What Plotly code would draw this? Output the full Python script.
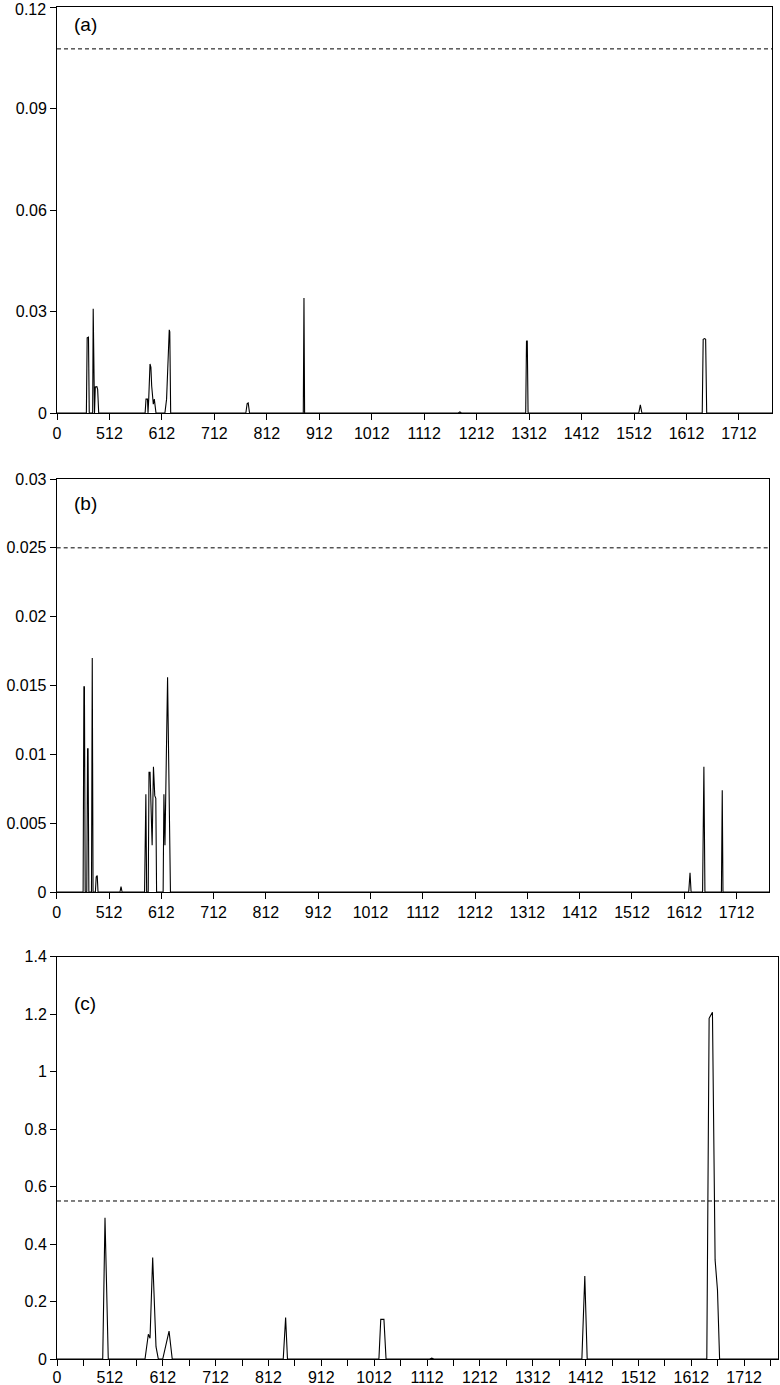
import plotly.graph_objects as go

# ---------------- data ----------------
tick_vals = [412, 512, 612, 712, 812, 912, 1012, 1112, 1212, 1312, 1412, 1512, 1612, 1712]
tick_text = ["0", "512", "612", "712", "812", "912", "1012", "1112", "1212", "1312", "1412", "1512", "1612", "1712"]

# panel (a)
a_x = [412,
       468, 469.5, 472, 473.5,
       480, 481, 482.3,
       483.5, 485, 488, 489.5, 491.5,
       580, 581.7, 584.5, 585.5,
       586.8, 589.3, 591, 592.5, 595.6, 597.5, 600.7,
       617.7, 620.9, 626, 627, 628.7,
       772, 774.5, 776.5, 779,
       881.5, 882.8, 884,
       1177, 1180, 1183,
       1305.5, 1307, 1308.5, 1310,
       1521, 1524, 1527,
       1642, 1643.8, 1646.5, 1648.5, 1650.5,
       1775]
a_y = [0,
       0, 0.0222, 0.0224, 0,
       0, 0.0308, 0,
       0, 0.0077, 0.0078, 0.0070, 0,
       0, 0.0041, 0.0041, 0,
       0.0040, 0.0145, 0.0135, 0.0080, 0.0026, 0.0041, 0,
       0, 0.0041, 0.0246, 0.0240, 0,
       0, 0.0028, 0.0030, 0,
       0, 0.0340, 0,
       0, 0.0003, 0,
       0, 0.0212, 0.0214, 0,
       0, 0.0024, 0,
       0, 0.0218, 0.0220, 0.0218, 0,
       0]
a_threshold = 0.1077

# panel (b)
b_x = [412,
       462.5, 464, 465, 466.5,
       469.5, 471, 472, 473.5,
       478.5, 480, 481.5,
       486, 487.5, 489.5, 491,
       533, 535, 537,
       580, 582.5, 584, 587, 588.5, 590.5, 592.5, 594.5, 597, 599.5, 601.5, 603,
       615.5, 617, 619, 624, 629.5,
       1620.5, 1623, 1625,
       1647, 1649.5, 1651.5,
       1683, 1684.6, 1686,
       1774]
b_y = [0,
       0, 0.0149, 0.0149, 0,
       0, 0.0104, 0.0104, 0,
       0, 0.0170, 0,
       0, 0.0011, 0.0012, 0,
       0, 0.0004, 0,
       0, 0.0071, 0, 0, 0.0087, 0.0087, 0.0060, 0.0034, 0.0091, 0.0070, 0.0068, 0,
       0, 0.0071, 0.0034, 0.0156, 0,
       0, 0.0014, 0,
       0, 0.0091, 0,
       0, 0.0074, 0,
       0]
b_threshold = 0.025

# panel (c)
c_x = [412,
       498.5, 502.8, 509,
       578.5, 584.8, 588, 593, 599.3, 603.7,
       612, 624, 630,
       840, 844.5, 848,
       1021, 1024.5, 1030.5, 1034.5,
       1117, 1121, 1125,
       1405, 1410.5, 1415,
       1641.3, 1645.7, 1652, 1657, 1661.5, 1665.5,
       1776]
c_y = [0,
       0, 0.492, 0,
       0, 0.086, 0.072, 0.353, 0.043, 0,
       0, 0.097, 0,
       0, 0.144, 0,
       0, 0.138, 0.138, 0,
       0, 0.003, 0,
       0, 0.289, 0,
       0, 1.186, 1.207, 0.345, 0.240, 0,
       0]
c_threshold = 0.55

panels = [
    dict(x=a_x, y=a_y, thr=a_threshold, yr=[0, 0.12],
         ytv=[0, 0.03, 0.06, 0.09, 0.12], ytt=["0", "0.03", "0.06", "0.09", ""],
         top_label="0.12",
         xr=[412, 1775], xdom=[57 / 780, 772 / 780], ydom=[1 - 413 / 1385, 1 - 7.3 / 1385],
         label="(a)", ly=24, minor=False, xstand=0),
    dict(x=b_x, y=b_y, thr=b_threshold, yr=[0, 0.03],
         ytv=[0, 0.005, 0.01, 0.015, 0.02, 0.025, 0.03],
         ytt=["0", "0.005", "0.01", "0.015", "0.02", "0.025", "0.03"],
         top_label=None,
         xr=[412, 1774], xdom=[56.7 / 780, 769 / 780], ydom=[1 - 892 / 1385, 1 - 479 / 1385],
         label="(b)", ly=503, minor=False, xstand=0),
    dict(x=c_x, y=c_y, thr=c_threshold, yr=[0, 1.4],
         ytv=[0, 0.2, 0.4, 0.6, 0.8, 1.0, 1.2, 1.4],
         ytt=["0", "0.2", "0.4", "0.6", "0.8", "1", "1.2", "1.4"],
         top_label=None,
         xr=[412, 1776], xdom=[57 / 780, 778 / 780], ydom=[1 - 1359 / 1385, 1 - 956.8 / 1385],
         label="(c)", ly=1003, minor=True, xstand=-2),
]

FONT = "Arial, 'Liberation Sans', sans-serif"
fig = go.Figure()
layout = dict(
    template="none",
    width=780, height=1385,
    margin=dict(l=0, r=0, t=0, b=0, pad=0, autoexpand=False),
    paper_bgcolor="white", plot_bgcolor="white",
    showlegend=False,
    font=dict(family=FONT, size=16, color="black"),
    shapes=[], annotations=[],
)

for i, p in enumerate(panels, start=1):
    xa = "x" if i == 1 else f"x{i}"
    ya = "y" if i == 1 else f"y{i}"
    fig.add_trace(go.Scatter(x=p["x"], y=p["y"], mode="lines",
                             line=dict(color="black", width=1.1),
                             xaxis=xa, yaxis=ya, hoverinfo="skip"))
    xkey = "xaxis" if i == 1 else f"xaxis{i}"
    ykey = "yaxis" if i == 1 else f"yaxis{i}"
    xax = dict(domain=p["xdom"], anchor=ya, range=p["xr"], automargin=False,
               tickmode="array", tickvals=tick_vals, ticktext=tick_text,
               ticks="outside", ticklen=6, tickwidth=1, tickcolor="black",
               showline=True, linecolor="black", linewidth=1, mirror=True,
               showgrid=False, zeroline=False, ticklabelstandoff=p["xstand"],
               tickfont=dict(family=FONT, size=16, color="black"))
    if p["minor"]:
        xax["minor"] = dict(tickvals=[v + 50 for v in tick_vals], ticks="outside",
                            ticklen=6, tickwidth=1, tickcolor="black", showgrid=False)
    layout[xkey] = xax
    layout[ykey] = dict(domain=p["ydom"], anchor=xa, range=p["yr"], automargin=False,
                        tickmode="array", tickvals=p["ytv"], ticktext=p["ytt"],
                        ticks="outside", ticklen=6, tickwidth=1, tickcolor="black",
                        showline=True, linecolor="black", linewidth=1, mirror=True,
                        showgrid=False, zeroline=False,
                        tickfont=dict(family=FONT, size=16, color="black"))
    layout["shapes"].append(dict(type="line", xref=f"{xa} domain", yref=ya,
                                 x0=0, x1=1, y0=p["thr"], y1=p["thr"],
                                 line=dict(color="black", width=1, dash="4px,3px")))
    layout["annotations"].append(dict(text=p["label"], xref="paper", yref="paper",
                                      x=72 / 780, y=1 - p["ly"] / 1385,
                                      xanchor="left", yanchor="middle", showarrow=False,
                                      font=dict(family=FONT, size=19, color="black")))
    if p["top_label"]:
        layout["annotations"].append(dict(text=p["top_label"], xref="paper", yref="paper",
                                          x=47 / 780, y=1,
                                          xanchor="right", yanchor="top", showarrow=False,
                                          borderpad=0,
                                          font=dict(family=FONT, size=16, color="black")))

fig.update_layout(**layout)
fig.write_html("out.html", config={"displayModeBar": False},
               post_script="document.body.style.margin='0';document.body.style.padding='0';")
